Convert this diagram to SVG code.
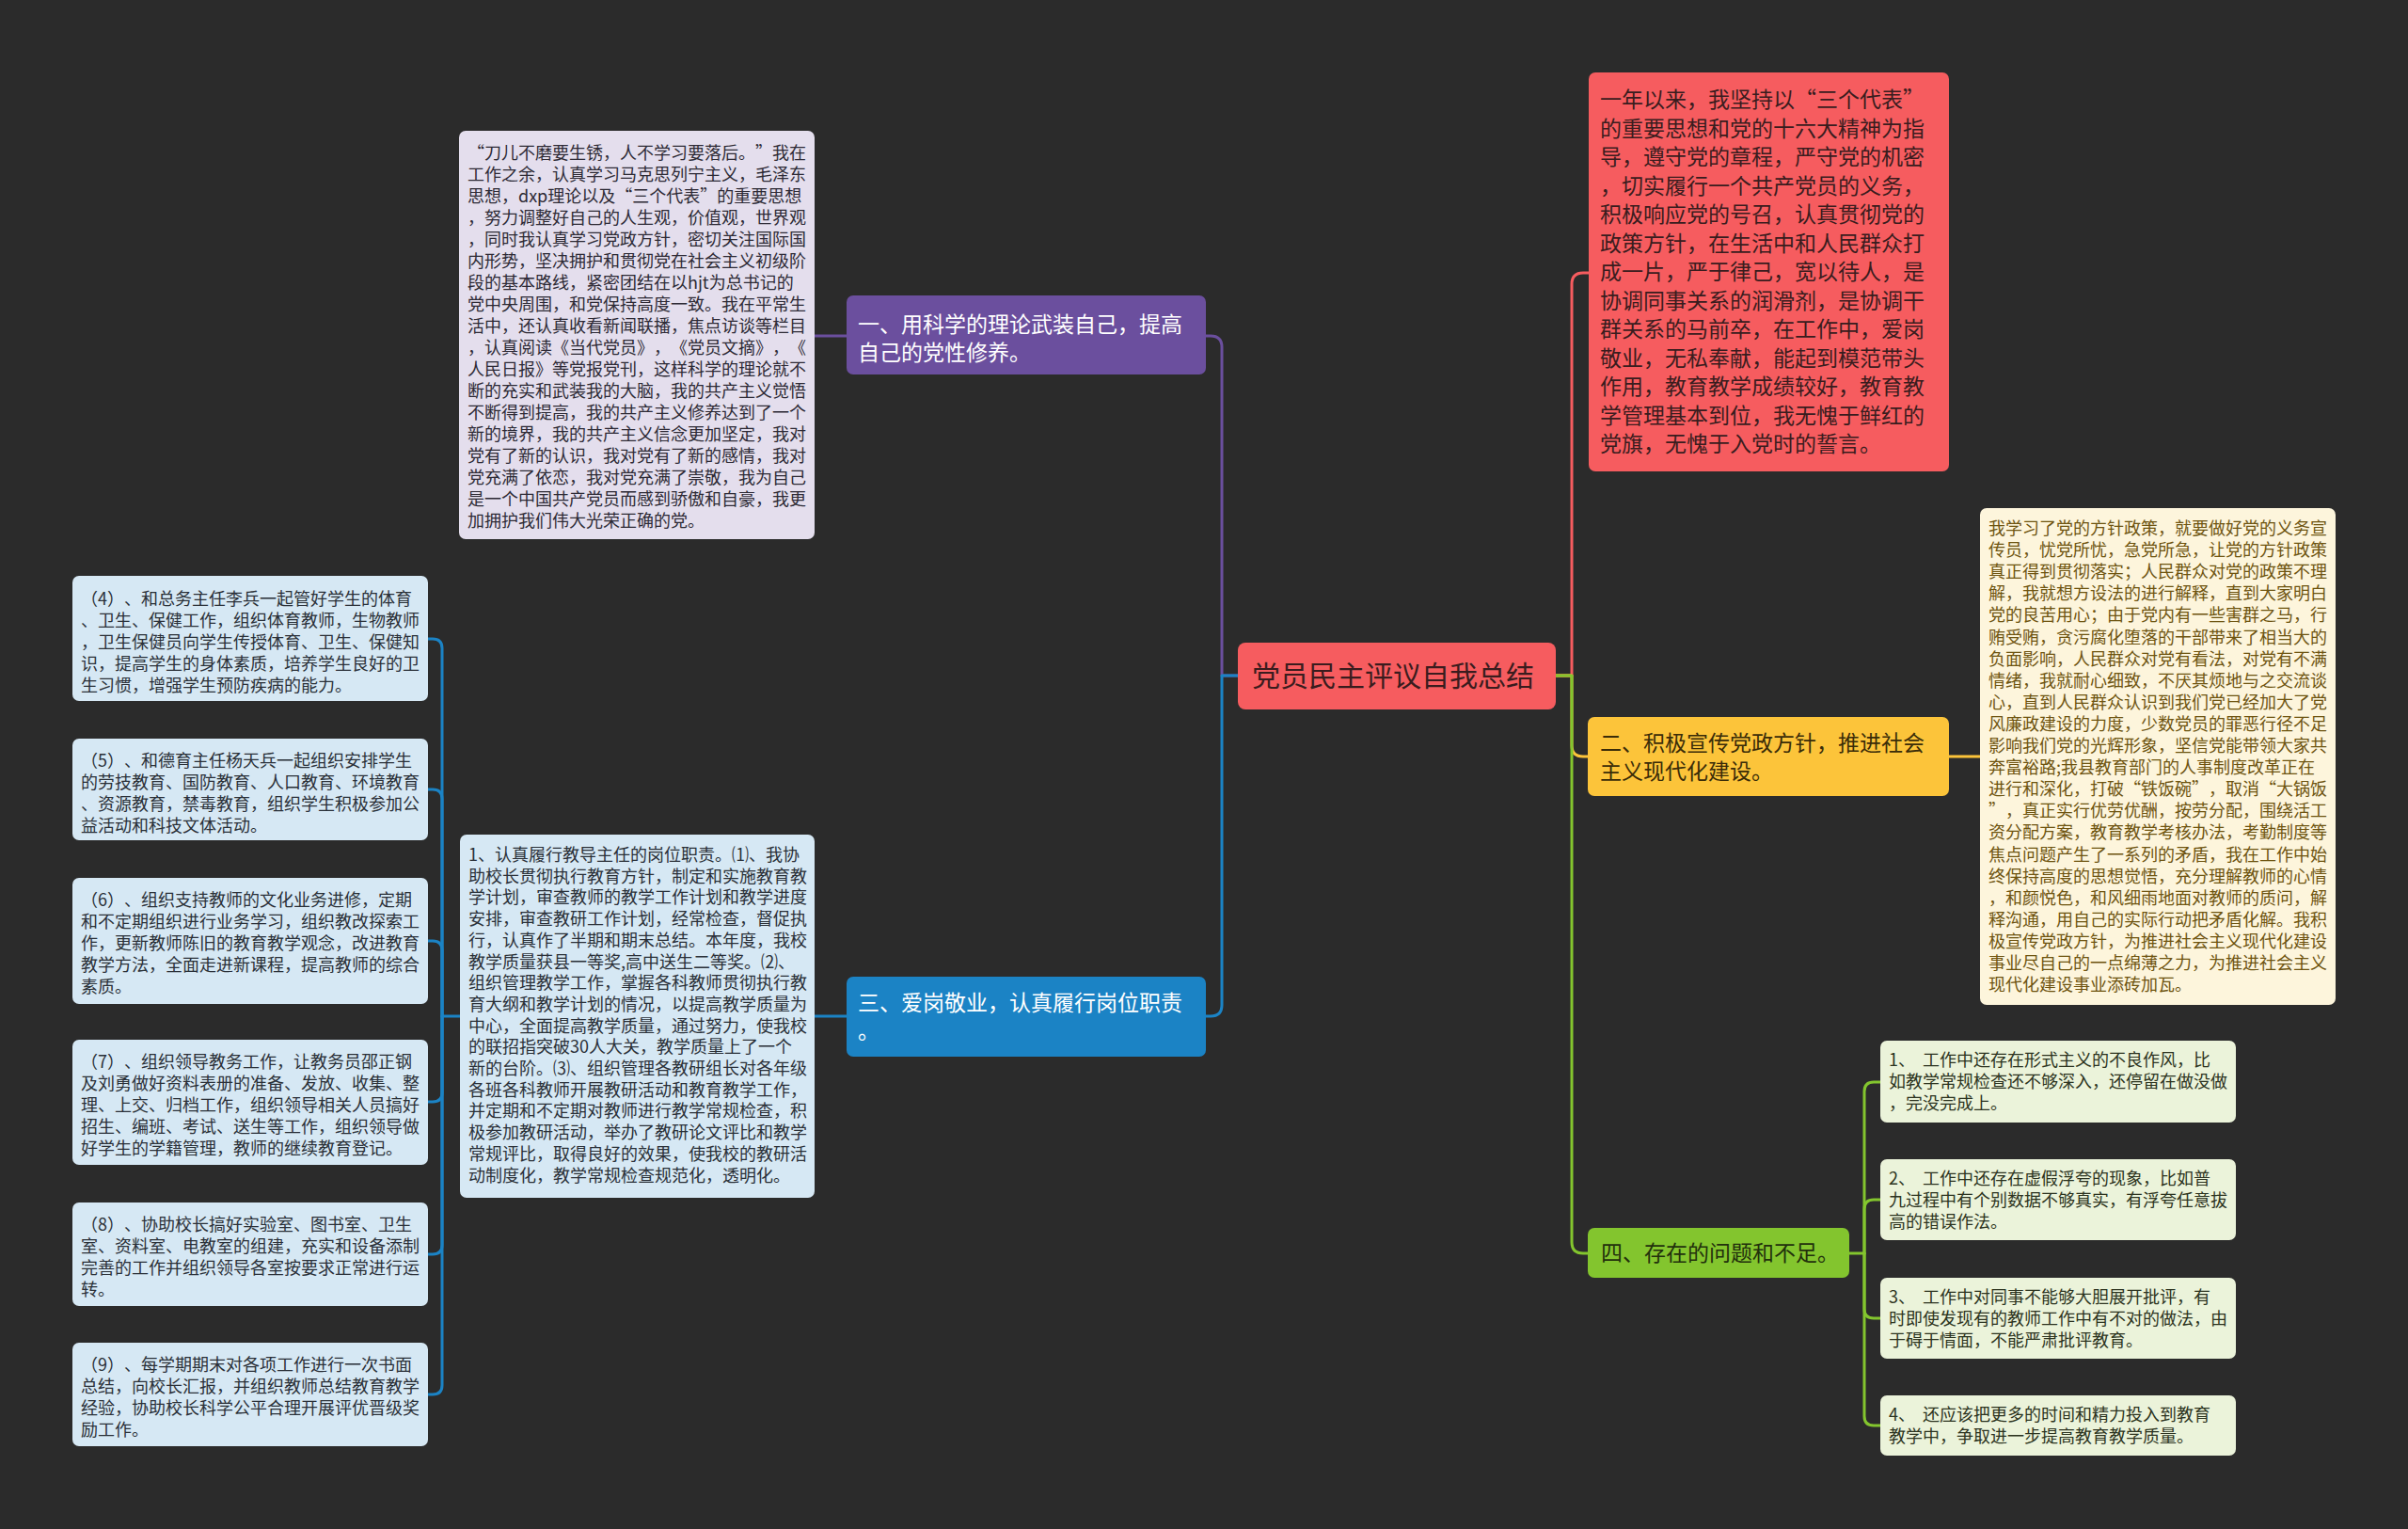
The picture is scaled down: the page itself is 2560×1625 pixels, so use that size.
<svg xmlns="http://www.w3.org/2000/svg" width="2560" height="1625" viewBox="0 0 2560 1625">
<style>
text{font-family:"Noto Sans CJK SC","Noto Sans",sans-serif;text-spacing-trim:space-all;font-kerning:none;}
.s18{font-size:18px;}
.s23{font-size:23px;}
.lnk{fill:none;stroke-width:3;stroke-linecap:round;stroke-linejoin:round;}
</style>
<rect x="0" y="0" width="2560" height="1625" fill="#2b2b2b"/>

<g id="connectors">
  <path class="lnk" stroke="#6b4f9e" d="M1316 718 H1299 V369 Q1299 357 1287 357 H1282"/>
  <path class="lnk" stroke="#6b4f9e" d="M900 357 H866"/>
  <path class="lnk" stroke="#1b83c5" d="M1316 718 H1299 V1068 Q1299 1080 1287 1080 H1282"/>
  <path class="lnk" stroke="#1b83c5" d="M900 1080 H866"/>
  <path class="lnk" stroke="#1b83c5" d="M489 1080 H470"/>
  <path class="lnk" stroke="#1b83c5" d="M470 1080 V689 Q470 679 460 679 H455"/>
  <path class="lnk" stroke="#1b83c5" d="M470 1080 V849 Q470 839 460 839 H455"/>
  <path class="lnk" stroke="#1b83c5" d="M470 1080 V1010 Q470 1000 460 1000 H455"/>
  <path class="lnk" stroke="#1b83c5" d="M470 1080 V1161 Q470 1171 460 1171 H455"/>
  <path class="lnk" stroke="#1b83c5" d="M470 1080 V1323 Q470 1333 460 1333 H455"/>
  <path class="lnk" stroke="#1b83c5" d="M470 1080 V1472 Q470 1482 460 1482 H455"/>
  <path class="lnk" stroke="#f65c5f" d="M1654 718 H1671 V302 Q1671 290 1683 290 H1689"/>
  <path class="lnk" stroke="#fcc43a" d="M1654 718 H1671 V792 Q1671 804 1683 804 H1688"/>
  <path class="lnk" stroke="#fcc43a" d="M2072 804 H2105"/>
  <path class="lnk" stroke="#83c52e" d="M1654 718 H1671 V1320 Q1671 1332 1683 1332 H1688"/>
  <path class="lnk" stroke="#83c52e" d="M1966 1332 H1982"/>
  <path class="lnk" stroke="#83c52e" d="M1982 1332 V1160 Q1982 1150 1992 1150 H1999"/>
  <path class="lnk" stroke="#83c52e" d="M1982 1332 V1285 Q1982 1275 1992 1275 H1999"/>
  <path class="lnk" stroke="#83c52e" d="M1982 1332 V1391 Q1982 1401 1992 1401 H1999"/>
  <path class="lnk" stroke="#83c52e" d="M1982 1332 V1505 Q1982 1515 1992 1515 H1999"/>
</g>

<g id="root">
  <rect x="1316" y="683" width="338" height="71" rx="8" fill="#f65c5f"/>
  <text x="1331" y="729" font-size="30" fill="#3a1c1e">党员民主评议自我总结</text>
</g>

<g id="b1">
  <rect x="900" y="314" width="382" height="84" rx="7" fill="#6b4f9e"/>
  <text class="s23" fill="#ffffff"><tspan x="912" y="353">一、用科学的理论武装自己，提高</tspan><tspan x="912" y="383">自己的党性修养。</tspan></text>
</g>

<g id="b1c1">
  <rect x="488" y="139" width="378" height="434" rx="7" fill="#e4deed"/>
  <text class="s18" fill="#2d2a35">
    <tspan x="497" y="168.5">“刀儿不磨要生锈，人不学习要落后。”我在</tspan>
    <tspan x="497" y="191.5">工作之余，认真学习马克思列宁主义，毛泽东</tspan>
    <tspan x="497" y="214.5">思想，dxp理论以及“三个代表”的重要思想</tspan>
    <tspan x="497" y="237.5">，努力调整好自己的人生观，价值观，世界观</tspan>
    <tspan x="497" y="260.5">，同时我认真学习党政方针，密切关注国际国</tspan>
    <tspan x="497" y="283.5">内形势，坚决拥护和贯彻党在社会主义初级阶</tspan>
    <tspan x="497" y="306.5">段的基本路线，紧密团结在以hjt为总书记的</tspan>
    <tspan x="497" y="329.5">党中央周围，和党保持高度一致。我在平常生</tspan>
    <tspan x="497" y="352.5">活中，还认真收看新闻联播，焦点访谈等栏目</tspan>
    <tspan x="497" y="375.5">，认真阅读《当代党员》，《党员文摘》，《</tspan>
    <tspan x="497" y="398.5">人民日报》等党报党刊，这样科学的理论就不</tspan>
    <tspan x="497" y="421.5">断的充实和武装我的大脑，我的共产主义觉悟</tspan>
    <tspan x="497" y="444.5">不断得到提高，我的共产主义修养达到了一个</tspan>
    <tspan x="497" y="467.5">新的境界，我的共产主义信念更加坚定，我对</tspan>
    <tspan x="497" y="490.5">党有了新的认识，我对党有了新的感情，我对</tspan>
    <tspan x="497" y="513.5">党充满了依恋，我对党充满了崇敬，我为自己</tspan>
    <tspan x="497" y="536.5">是一个中国共产党员而感到骄傲和自豪，我更</tspan>
    <tspan x="497" y="559.5">加拥护我们伟大光荣正确的党。</tspan>
  </text>
</g>

<g id="b3">
  <rect x="900" y="1038" width="382" height="85" rx="7" fill="#1b83c5"/>
  <text class="s23" fill="#ffffff"><tspan x="912" y="1074">三、爱岗敬业，认真履行岗位职责</tspan><tspan x="912" y="1104">。</tspan></text>
</g>

<g id="b3c1">
  <rect x="489" y="887" width="377" height="386" rx="7" fill="#d6e8f4"/>
  <text class="s18" fill="#2a3038">
    <tspan x="498" y="915">1、认真履行教导主任的岗位职责。⑴、我协</tspan>
    <tspan x="498" y="937.7">助校长贯彻执行教育方针，制定和实施教育教</tspan>
    <tspan x="498" y="960.4">学计划，审查教师的教学工作计划和教学进度</tspan>
    <tspan x="498" y="983.1">安排，审查教研工作计划，经常检查，督促执</tspan>
    <tspan x="498" y="1005.8">行，认真作了半期和期末总结。本年度，我校</tspan>
    <tspan x="498" y="1028.5">教学质量获县一等奖,高中送生二等奖。⑵、</tspan>
    <tspan x="498" y="1051.2">组织管理教学工作，掌握各科教师贯彻执行教</tspan>
    <tspan x="498" y="1073.9">育大纲和教学计划的情况，以提高教学质量为</tspan>
    <tspan x="498" y="1096.6">中心，全面提高教学质量，通过努力，使我校</tspan>
    <tspan x="498" y="1119.3">的联招指突破30人大关，教学质量上了一个</tspan>
    <tspan x="498" y="1142">新的台阶。⑶、组织管理各教研组长对各年级</tspan>
    <tspan x="498" y="1164.7">各班各科教师开展教研活动和教育教学工作，</tspan>
    <tspan x="498" y="1187.4">并定期和不定期对教师进行教学常规检查，积</tspan>
    <tspan x="498" y="1210.1">极参加教研活动，举办了教研论文评比和教学</tspan>
    <tspan x="498" y="1232.8">常规评比，取得良好的效果，使我校的教研活</tspan>
    <tspan x="498" y="1255.5">动制度化，教学常规检查规范化，透明化。</tspan>
  </text>
</g>

<g id="b3c2">
  <rect x="77" y="612" width="378" height="133" rx="7" fill="#d6e8f4"/>
  <text class="s18" fill="#2a3038">
    <tspan x="86" y="643">（4）、和总务主任李兵一起管好学生的体育</tspan>
    <tspan x="86" y="666">、卫生、保健工作，组织体育教师，生物教师</tspan>
    <tspan x="86" y="689">，卫生保健员向学生传授体育、卫生、保健知</tspan>
    <tspan x="86" y="712">识，提高学生的身体素质，培养学生良好的卫</tspan>
    <tspan x="86" y="735">生习惯，增强学生预防疾病的能力。</tspan>
  </text>
</g>

<g id="b3c3">
  <rect x="77" y="785" width="378" height="108" rx="7" fill="#d6e8f4"/>
  <text class="s18" fill="#2a3038">
    <tspan x="86" y="815">（5）、和德育主任杨天兵一起组织安排学生</tspan>
    <tspan x="86" y="838">的劳技教育、国防教育、人口教育、环境教育</tspan>
    <tspan x="86" y="861">、资源教育，禁毒教育，组织学生积极参加公</tspan>
    <tspan x="86" y="884">益活动和科技文体活动。</tspan>
  </text>
</g>

<g id="b3c4">
  <rect x="77" y="933" width="378" height="134" rx="7" fill="#d6e8f4"/>
  <text class="s18" fill="#2a3038">
    <tspan x="86" y="963">（6）、组织支持教师的文化业务进修，定期</tspan>
    <tspan x="86" y="986">和不定期组织进行业务学习，组织教改探索工</tspan>
    <tspan x="86" y="1009">作，更新教师陈旧的教育教学观念，改进教育</tspan>
    <tspan x="86" y="1032">教学方法，全面走进新课程，提高教师的综合</tspan>
    <tspan x="86" y="1055">素质。</tspan>
  </text>
</g>

<g id="b3c5">
  <rect x="77" y="1105" width="378" height="133" rx="7" fill="#d6e8f4"/>
  <text class="s18" fill="#2a3038">
    <tspan x="86" y="1135">（7）、组织领导教务工作，让教务员邵正钢</tspan>
    <tspan x="86" y="1158">及刘勇做好资料表册的准备、发放、收集、整</tspan>
    <tspan x="86" y="1181">理、上交、归档工作，组织领导相关人员搞好</tspan>
    <tspan x="86" y="1204">招生、编班、考试、送生等工作，组织领导做</tspan>
    <tspan x="86" y="1227">好学生的学籍管理，教师的继续教育登记。</tspan>
  </text>
</g>

<g id="b3c6">
  <rect x="77" y="1278" width="378" height="110" rx="7" fill="#d6e8f4"/>
  <text class="s18" fill="#2a3038">
    <tspan x="86" y="1308">（8）、协助校长搞好实验室、图书室、卫生</tspan>
    <tspan x="86" y="1331">室、资料室、电教室的组建，充实和设备添制</tspan>
    <tspan x="86" y="1354">完善的工作并组织领导各室按要求正常进行运</tspan>
    <tspan x="86" y="1377">转。</tspan>
  </text>
</g>

<g id="b3c7">
  <rect x="77" y="1427" width="378" height="110" rx="7" fill="#d6e8f4"/>
  <text class="s18" fill="#2a3038">
    <tspan x="86" y="1457">（9）、每学期期末对各项工作进行一次书面</tspan>
    <tspan x="86" y="1480">总结，向校长汇报，并组织教师总结教育教学</tspan>
    <tspan x="86" y="1503">经验，协助校长科学公平合理开展评优晋级奖</tspan>
    <tspan x="86" y="1526">励工作。</tspan>
  </text>
</g>

<g id="r1">
  <rect x="1689" y="77" width="383" height="424" rx="7" fill="#f65c5f"/>
  <text class="s23" fill="#3a1c1e">
    <tspan x="1701" y="114">一年以来，我坚持以“三个代表”</tspan>
    <tspan x="1701" y="144.5">的重要思想和党的十六大精神为指</tspan>
    <tspan x="1701" y="175">导，遵守党的章程，严守党的机密</tspan>
    <tspan x="1701" y="205.5">，切实履行一个共产党员的义务，</tspan>
    <tspan x="1701" y="236">积极响应党的号召，认真贯彻党的</tspan>
    <tspan x="1701" y="266.5">政策方针，在生活中和人民群众打</tspan>
    <tspan x="1701" y="297">成一片，严于律己，宽以待人，是</tspan>
    <tspan x="1701" y="327.5">协调同事关系的润滑剂，是协调干</tspan>
    <tspan x="1701" y="358">群关系的马前卒，在工作中，爱岗</tspan>
    <tspan x="1701" y="388.5">敬业，无私奉献，能起到模范带头</tspan>
    <tspan x="1701" y="419">作用，教育教学成绩较好，教育教</tspan>
    <tspan x="1701" y="449.5">学管理基本到位，我无愧于鲜红的</tspan>
    <tspan x="1701" y="480">党旗，无愧于入党时的誓言。</tspan>
  </text>
</g>

<g id="b2">
  <rect x="1688" y="762" width="384" height="84" rx="7" fill="#fcc43a"/>
  <text class="s23" fill="#3a2c08"><tspan x="1701" y="798">二、积极宣传党政方针，推进社会</tspan><tspan x="1701" y="828">主义现代化建设。</tspan></text>
</g>

<g id="b2c1">
  <rect x="2105" y="540" width="378" height="528" rx="7" fill="#fdf5dc"/>
  <text class="s18" fill="#6e5410">
    <tspan x="2114" y="568">我学习了党的方针政策，就要做好党的义务宣</tspan>
    <tspan x="2114" y="591.1">传员，忧党所忧，急党所急，让党的方针政策</tspan>
    <tspan x="2114" y="614.2">真正得到贯彻落实；人民群众对党的政策不理</tspan>
    <tspan x="2114" y="637.3">解，我就想方设法的进行解释，直到大家明白</tspan>
    <tspan x="2114" y="660.4">党的良苦用心；由于党内有一些害群之马，行</tspan>
    <tspan x="2114" y="683.5">贿受贿，贪污腐化堕落的干部带来了相当大的</tspan>
    <tspan x="2114" y="706.6">负面影响，人民群众对党有看法，对党有不满</tspan>
    <tspan x="2114" y="729.7">情绪，我就耐心细致，不厌其烦地与之交流谈</tspan>
    <tspan x="2114" y="752.8">心，直到人民群众认识到我们党已经加大了党</tspan>
    <tspan x="2114" y="775.9">风廉政建设的力度，少数党员的罪恶行径不足</tspan>
    <tspan x="2114" y="799">影响我们党的光辉形象，坚信党能带领大家共</tspan>
    <tspan x="2114" y="822.1">奔富裕路;我县教育部门的人事制度改革正在</tspan>
    <tspan x="2114" y="845.2">进行和深化，打破“铁饭碗”，取消“大锅饭</tspan>
    <tspan x="2114" y="868.3">”，真正实行优劳优酬，按劳分配，围绕活工</tspan>
    <tspan x="2114" y="891.4">资分配方案，教育教学考核办法，考勤制度等</tspan>
    <tspan x="2114" y="914.5">焦点问题产生了一系列的矛盾，我在工作中始</tspan>
    <tspan x="2114" y="937.6">终保持高度的思想觉悟，充分理解教师的心情</tspan>
    <tspan x="2114" y="960.7">，和颜悦色，和风细雨地面对教师的质问，解</tspan>
    <tspan x="2114" y="983.8">释沟通，用自己的实际行动把矛盾化解。我积</tspan>
    <tspan x="2114" y="1006.9">极宣传党政方针，为推进社会主义现代化建设</tspan>
    <tspan x="2114" y="1030">事业尽自己的一点绵薄之力，为推进社会主义</tspan>
    <tspan x="2114" y="1053.1">现代化建设事业添砖加瓦。</tspan>
  </text>
</g>

<g id="b4">
  <rect x="1688" y="1305" width="278" height="53" rx="7" fill="#83c52e"/>
  <text class="s23" fill="#22300c" x="1702" y="1340">四、存在的问题和不足。</text>
</g>

<g id="b4c1">
  <rect x="1999" y="1106" width="378" height="87" rx="7" fill="#ebf3da"/>
  <text class="s18" fill="#2c3320" xml:space="preserve"><tspan x="2008" y="1133">1、  工作中还存在形式主义的不良作风，比</tspan><tspan x="2008" y="1156">如教学常规检查还不够深入，还停留在做没做</tspan><tspan x="2008" y="1179">，完没完成上。</tspan></text>
</g>

<g id="b4c2">
  <rect x="1999" y="1232" width="378" height="86" rx="7" fill="#ebf3da"/>
  <text class="s18" fill="#2c3320" xml:space="preserve"><tspan x="2008" y="1259">2、  工作中还存在虚假浮夸的现象，比如普</tspan><tspan x="2008" y="1282">九过程中有个别数据不够真实，有浮夸任意拔</tspan><tspan x="2008" y="1305">高的错误作法。</tspan></text>
</g>

<g id="b4c3">
  <rect x="1999" y="1358" width="378" height="86" rx="7" fill="#ebf3da"/>
  <text class="s18" fill="#2c3320" xml:space="preserve"><tspan x="2008" y="1385">3、  工作中对同事不能够大胆展开批评，有</tspan><tspan x="2008" y="1408">时即使发现有的教师工作中有不对的做法，由</tspan><tspan x="2008" y="1431">于碍于情面，不能严肃批评教育。</tspan></text>
</g>

<g id="b4c4">
  <rect x="1999" y="1483" width="378" height="64" rx="7" fill="#ebf3da"/>
  <text class="s18" fill="#2c3320" xml:space="preserve"><tspan x="2008" y="1510">4、  还应该把更多的时间和精力投入到教育</tspan><tspan x="2008" y="1533">教学中，争取进一步提高教育教学质量。</tspan></text>
</g>
</svg>
